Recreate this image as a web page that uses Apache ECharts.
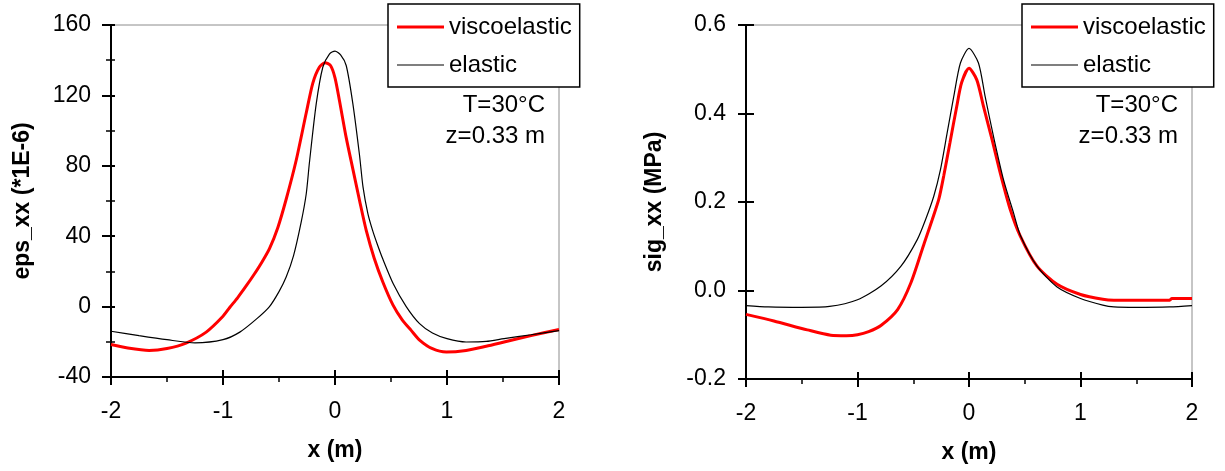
<!DOCTYPE html>
<html>
<head>
<meta charset="utf-8">
<script src="https://cdn.jsdelivr.net/npm/echarts@6/dist/echarts.min.js"></script>
<style>
html,body{margin:0;padding:0;background:#fff;}
#chart{width:1225px;height:471px;}
</style>
</head>
<body>
<div id="chart"></div>
<script>
// ---- Data ----
const seriesNames = ['viscoelastic', 'elastic'];

// Left panel: eps_xx (*1E-6) vs x (m)
const epsViscoX = [-2, -1.85, -1.66, -1.5, -1.33, -1.15, -1.0, -0.94, -0.87, -0.79, -0.72, -0.66, -0.585, -0.51, -0.436, -0.347, -0.257, -0.198, -0.14, -0.088, -0.04, 0.0, 0.04, 0.1, 0.16, 0.22, 0.28, 0.35, 0.427, 0.517, 0.6, 0.68, 0.755, 0.87, 0.994, 1.17, 1.35, 1.51, 1.75, 2];
const epsViscoY = [-21.5, -23.5, -24.9, -23.8, -20.7, -14.5, -5.5, -0.5, 5, 12, 18.5, 24.5, 33, 45, 61, 83, 110, 127, 136, 138.6, 137, 130, 117, 96, 78, 60, 43, 27.5, 14, 1, -7.5, -13.5, -19, -23.9, -25.8, -24.9, -22.5, -20.1, -16.5, -13];
const epsElasX = [-2, -1.75, -1.5, -1.25, -1.0, -0.85, -0.7, -0.585, -0.5, -0.436, -0.37, -0.302, -0.257, -0.228, -0.168, -0.109, -0.05, 0, 0.05, 0.1, 0.159, 0.219, 0.25, 0.293, 0.337, 0.38, 0.427, 0.52, 0.636, 0.755, 0.87, 1.0, 1.17, 1.35, 1.51, 1.75, 2];
const epsElasY = [-14, -16.5, -18.8, -20.6, -18.8, -14.5, -7, 0, 8.5, 16.8, 29, 48, 64, 82, 115, 136, 143.5, 145.2, 143, 137, 115.5, 86, 68, 53, 43, 35, 27, 13, 0, -9.7, -15, -18.2, -20.1, -19.8, -18.2, -16, -13.6];

// Right panel: sig_xx (MPa) vs x (m)
const sigViscoX = [-2, -1.75, -1.45, -1.24, -1.1, -1.0, -0.9, -0.79, -0.64, -0.52, -0.4, -0.33, -0.27, -0.226, -0.17, -0.11, -0.066, 0, 0.07, 0.13, 0.207, 0.28, 0.37, 0.46, 0.61, 0.79, 1.0, 1.2, 1.3, 1.8, 1.82, 2];
const sigViscoY = [-0.054, -0.069, -0.089, -0.101, -0.102, -0.1, -0.093, -0.079, -0.043, 0.018, 0.108, 0.16, 0.207, 0.26, 0.335, 0.416, 0.47, 0.502, 0.476, 0.416, 0.341, 0.266, 0.183, 0.123, 0.055, 0.014, -0.009, -0.02, -0.022, -0.022, -0.018, -0.018];
const sigElasX = [-2, -1.8, -1.5, -1.25, -1.0, -0.79, -0.61, -0.464, -0.39, -0.316, -0.256, -0.196, -0.137, -0.077, 0, 0.085, 0.145, 0.22, 0.31, 0.4, 0.46, 0.61, 0.79, 1.0, 1.2, 1.3, 1.5, 1.8, 2];
const sigElasY = [-0.034, -0.037, -0.038, -0.036, -0.021, 0.01, 0.055, 0.115, 0.16, 0.213, 0.273, 0.356, 0.438, 0.514, 0.547, 0.514, 0.438, 0.348, 0.25, 0.175, 0.125, 0.055, 0.008, -0.018, -0.033, -0.037, -0.038, -0.037, -0.034];

// Axis ranges / ticks
const xRange = {min: -2, max: 2, interval: 1};
const epsRange = {min: -40, max: 160, interval: 40};
const sigRange = {min: -0.2, max: 0.6, interval: 0.2};
const annotations = ['T=30°C', 'z=0.33 m'];

// ---- Build chart ----
const pairs = (xs, ys) => xs.map((x, i) => [x, ys[i]]);
const FONT = 'Liberation Sans, Arial, sans-serif';
const BLACK = '#000';
const RED = '#ff0000';

const grids = [
  {left: 111, top: 25, width: 448, height: 352, show: true, borderColor: '#8c8c8c', borderWidth: 1},
  {left: 746, top: 25, width: 446, height: 354, show: true, borderColor: '#8c8c8c', borderWidth: 1}
];

function mainX(gi) {
  return {
    type: 'value', gridIndex: gi, position: 'bottom',
    min: xRange.min, max: xRange.max, interval: xRange.interval,
    axisLine: {onZero: false, lineStyle: {color: BLACK, width: 2}},
    axisTick: {length: 8, lineStyle: {color: BLACK, width: 2}},
    minorTick: {show: true, splitNumber: 2, length: 5, lineStyle: {color: BLACK, width: 1.5}},
    splitLine: {show: false},
    axisLabel: {color: BLACK, fontSize: 23, fontFamily: FONT, margin: 23},
    name: 'x (m)', nameLocation: 'middle', nameGap: 62,
    nameTextStyle: {color: BLACK, fontSize: 23, fontWeight: 'bold', fontFamily: FONT}
  };
}
function innerX(gi) {
  return {
    type: 'value', gridIndex: gi, position: 'bottom',
    min: xRange.min, max: xRange.max, interval: xRange.interval,
    axisLine: {show: false, onZero: false},
    axisTick: {inside: true, length: 7, lineStyle: {color: BLACK, width: 2}},
    splitLine: {show: false}, axisLabel: {show: false}
  };
}
function mainY(gi, range, name, nameGap, minor, fmt) {
  return {
    type: 'value', gridIndex: gi, position: 'left',
    min: range.min, max: range.max, interval: range.interval,
    axisLine: {onZero: false, lineStyle: {color: BLACK, width: 2}},
    axisTick: {length: minor ? 9 : 8, lineStyle: {color: BLACK, width: 2}},
    minorTick: {show: minor, splitNumber: 2, length: 5, lineStyle: {color: BLACK, width: 1.5}},
    splitLine: {show: false},
    axisLabel: {color: BLACK, fontSize: 23, fontFamily: FONT, margin: 20, formatter: fmt},
    name: name, nameLocation: 'middle', nameGap: nameGap,
    nameTextStyle: {color: BLACK, fontSize: 23, fontWeight: 'bold', fontFamily: FONT}
  };
}
function innerY(gi, range, len, minor) {
  return {
    type: 'value', gridIndex: gi, position: 'left',
    min: range.min, max: range.max, interval: range.interval,
    axisLine: {show: false, onZero: false},
    axisTick: {inside: true, length: len, lineStyle: {color: BLACK, width: 2}},
    minorTick: {show: minor, splitNumber: 2, length: 4, lineStyle: {color: BLACK, width: 1.5}},
    splitLine: {show: false}, axisLabel: {show: false}
  };
}

function legendAt(left) {
  return {
    orient: 'vertical', left: left, top: 4,
    data: [
      {name: seriesNames[0], icon: 'path://M0,0H47V3.2H0Z'},
      {name: seriesNames[1], icon: 'path://M0,0H47V1.2H0Z'}
    ],
    symbolKeepAspect: true,
    padding: [11, 8, 10, 9],
    itemWidth: 47, itemHeight: 20, itemGap: 14,
    borderColor: BLACK, borderWidth: 1.5, backgroundColor: '#fff',
    textStyle: {color: BLACK, fontSize: 24, fontFamily: FONT, lineHeight: 20}
  };
}

function annot(rightX) {
  return annotations.map((t, i) => ({
    type: 'text', z: 100,
    style: {text: t, x: rightX, y: 105 + i * 31, align: 'right', verticalAlign: 'middle',
            font: '24px ' + FONT, fill: BLACK}
  }));
}

const viscoStyle = {color: RED, width: 3};
const elasStyle = {color: BLACK, width: 1.2};

function lineSeries(name, xi, yi, xs, ys, ls) {
  return {name: name, type: 'line', xAxisIndex: xi, yAxisIndex: yi, data: pairs(xs, ys),
          symbol: 'none', smooth: 0.25, lineStyle: ls, itemStyle: {color: ls.color}};
}

const option = {
  backgroundColor: '#fff',
  animation: false,
  grid: grids,
  legend: [legendAt(388), legendAt(1022)],
  xAxis: [mainX(0), innerX(0), mainX(1), innerX(1)],
  yAxis: [
    mainY(0, epsRange, 'eps_xx (*1E-6)', 77, true, v => String(v)),
    innerY(0, epsRange, 4, true),
    mainY(1, sigRange, 'sig_xx (MPa)', 80, false, v => v.toFixed(1)),
    innerY(1, sigRange, 8, false)
  ],
  series: [
    lineSeries(seriesNames[0], 0, 0, epsViscoX, epsViscoY, viscoStyle),
    lineSeries(seriesNames[1], 0, 0, epsElasX, epsElasY, elasStyle),
    lineSeries(seriesNames[0], 2, 2, sigViscoX, sigViscoY, viscoStyle),
    lineSeries(seriesNames[1], 2, 2, sigElasX, sigElasY, elasStyle)
  ],
  graphic: annot(545).concat(annot(1178))
};

const chart = echarts.init(document.getElementById('chart'), null, {renderer: 'canvas'});
chart.setOption(option);
</script>
</body>
</html>
